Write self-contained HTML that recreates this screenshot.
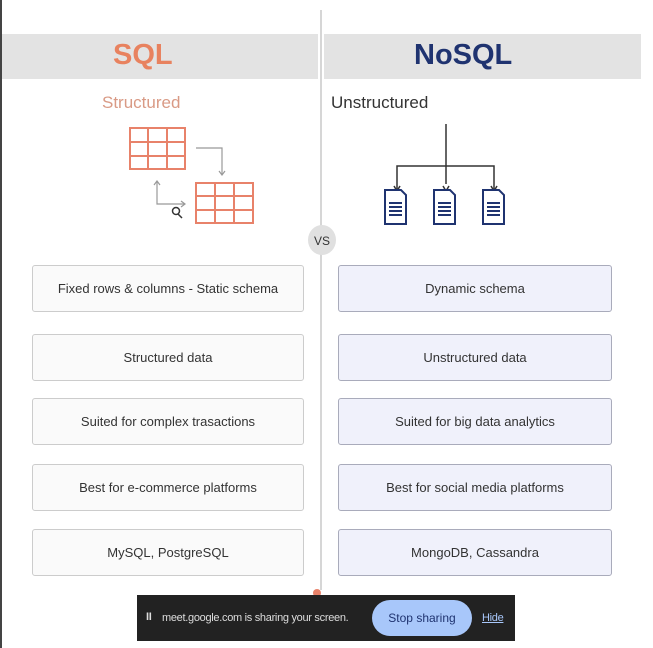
<!DOCTYPE html>
<html><head><style>
*{margin:0;padding:0;box-sizing:border-box}
body{width:653px;height:648px;background:#fff;position:relative;overflow:hidden;font-family:"Liberation Sans",sans-serif}
.a{position:absolute}
.band{background:#e3e3e3;top:34px;height:45px}
.box{position:absolute;height:47px;display:flex;align-items:center;justify-content:center;font-size:13px;color:#333;border-radius:3px}
.l{left:32px;width:272px;background:#fafafa;border:1px solid #ccc}
.r{left:338px;width:274px;background:#f0f1fb;border:1px solid #a9abbb}
</style></head><body>
<div class="a" style="left:0;top:0;width:2px;height:648px;background:#444"></div>
<div class="a band" style="left:2px;width:316px"></div>
<div class="a band" style="left:324px;width:317px"></div>
<div class="a" style="left:320px;top:10px;width:2px;height:580px;background:#d6d6d6"></div>
<div class="a" style="left:113px;top:39px;font-size:29px;font-weight:bold;color:#e8825f">SQL</div>
<div class="a" style="left:414px;top:39px;font-size:29px;font-weight:bold;color:#1f3370">NoSQL</div>
<div class="a" style="left:102px;top:93px;font-size:17px;color:#d99a85">Structured</div>
<div class="a" style="left:331px;top:93px;font-size:17px;color:#333">Unstructured</div>
<svg class="a" style="left:0;top:0" width="653" height="260">
<g stroke="#e8826a" stroke-width="2" fill="none">
<rect x="130" y="128" width="55" height="41"/><line x1="148" y1="128" x2="148" y2="169"/><line x1="167" y1="128" x2="167" y2="169"/><line x1="130" y1="142" x2="185" y2="142"/><line x1="130" y1="156" x2="185" y2="156"/>
<rect x="196" y="183" width="57" height="40"/><line x1="215" y1="183" x2="215" y2="223"/><line x1="234" y1="183" x2="234" y2="223"/><line x1="196" y1="196" x2="253" y2="196"/><line x1="196" y1="210" x2="253" y2="210"/>
</g>
<g stroke="#999" stroke-width="1.2" fill="none">
<polyline points="196,148 222,148 222,174"/><polyline points="219,171 222,175 225,171"/>
<polyline points="157,182 157,204 184,204"/><polyline points="181,201 185,204 181,207"/><polyline points="154,185 157,181 160,185"/>
</g>
<circle cx="176" cy="211" r="3.5" stroke="#333" fill="none" stroke-width="1.5"/><line x1="178" y1="214" x2="182" y2="218" stroke="#333" stroke-width="1.5"/>
<g stroke="#333" stroke-width="1.5" fill="none">
<line x1="446" y1="124" x2="446" y2="184"/><polyline points="397,190 397,166 494,166 494,190"/>
<polyline points="394,186 397,191 400,186"/><polyline points="443,186 446,191 449,186"/><polyline points="491,186 494,191 497,186"/>
</g>
<g fill="#fff" stroke="#1f3370" stroke-width="2">
<path d="M385 190 h16 l5 5 v29 h-21z"/><path d="M434 190 h16 l5 5 v29 h-21z"/><path d="M483 190 h16 l5 5 v29 h-21z"/>
</g>
<g stroke="#1f3370" stroke-width="2">
<path d="M389 203h13M389 207h13M389 211h13M389 215h13"/><path d="M438 203h13M438 207h13M438 211h13M438 215h13"/><path d="M487 203h13M487 207h13M487 211h13M487 215h13"/>
</g>
<ellipse cx="322" cy="240" rx="14" ry="15" fill="#e0e0e0"/>
<text x="322" y="245" font-size="12" text-anchor="middle" fill="#333" font-family="Liberation Sans">VS</text>
</svg>
<div class="box l" style="top:265px">Fixed rows &amp; columns - Static schema</div>
<div class="box r" style="top:265px">Dynamic schema</div>
<div class="box l" style="top:334px">Structured data</div>
<div class="box r" style="top:334px">Unstructured data</div>
<div class="box l" style="top:398px">Suited for complex trasactions</div>
<div class="box r" style="top:398px">Suited for big data analytics</div>
<div class="box l" style="top:464px">Best for e-commerce platforms</div>
<div class="box r" style="top:464px">Best for social media platforms</div>
<div class="box l" style="top:529px">MySQL, PostgreSQL</div>
<div class="box r" style="top:529px">MongoDB, Cassandra</div>
<div class="a" style="left:313px;top:589px;width:8px;height:8px;border-radius:50%;background:#e8826a"></div>
<div class="a" style="left:137px;top:595px;width:378px;height:46px;background:#222;color:#ddd;font-size:11px;letter-spacing:-0.3px">
<div class="a" style="left:9px;top:16px;font-weight:bold">II</div>
<div class="a" style="left:25px;top:17px;white-space:nowrap">meet.google.com is sharing your screen.</div>
<div class="a" style="left:235px;top:5px;width:100px;height:36px;border-radius:18px;background:#a8c7fa;color:#1f3370;font-size:12px;letter-spacing:0;display:flex;align-items:center;justify-content:center">Stop sharing</div>
<div class="a" style="left:345px;top:17px;color:#a8c7fa;text-decoration:underline">Hide</div>
</div>
</body></html>
